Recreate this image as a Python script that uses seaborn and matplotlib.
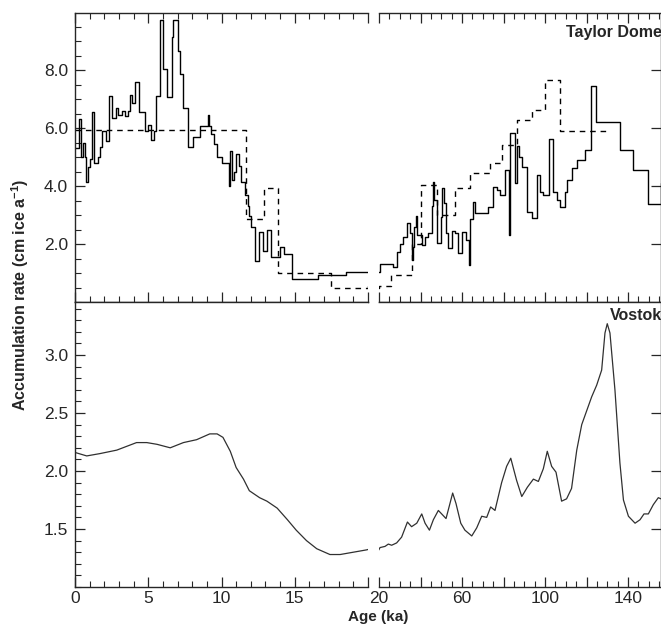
import matplotlib
matplotlib.use("Agg")
import matplotlib.pyplot as plt
import matplotlib.ticker as mticker
import pandas as pd
import seaborn as sns

# Taylor Dome accumulation, step series (age in ka where each step starts, rate in cm ice/a)
TD_AGE = [0.0, 0.3, 0.4, 0.55, 0.65, 0.75, 0.9, 1.05, 1.15, 1.3, 1.55, 1.7, 1.85, 2.1,
          2.35, 2.5, 2.8, 2.95, 3.2, 3.4, 3.65, 3.75, 3.9, 4.1, 4.35, 4.75, 5.0, 5.2,
          5.4, 5.55, 5.8, 6.03, 6.26, 6.6, 6.71, 7.05, 7.2, 7.35, 7.74, 8.03, 8.5, 9.05,
          9.15, 9.3, 9.5, 9.7, 10.0, 10.5, 10.6, 10.7, 10.85, 11.0, 11.2, 11.35, 11.6,
          11.8, 11.9, 12.0, 12.3, 12.55, 12.85, 13.1, 13.4, 14.0, 14.3, 14.8, 16.6, 18.5,
          20.3, 26.9, 28.5, 30.1, 31.7, 33.3, 35.0, 35.8, 36.3, 37.0, 38.0, 38.5, 40.6,
          42.2, 43.8, 45.4, 45.9, 46.5, 47.8, 49.7, 50.6, 51.5, 52.4, 53.4, 55.0, 56.6,
          58.2, 59.8, 62.0, 63.3, 63.9, 65.5, 66.5, 72.7, 75.0, 76.7, 78.3, 80.7, 82.6,
          83.2, 85.5, 86.3, 87.6, 88.8, 91.2, 93.6, 96.0, 97.6, 99.2, 102.0, 103.7,
          105.6, 107.2, 109.6, 110.8, 112.9, 115.3, 119.3, 122.2, 124.6, 136.1, 142.6,
          149.8, 155.9]
TD_RATE = [5.3, 6.3, 5.0, 5.5, 5.0, 4.15, 4.65, 4.95, 6.55, 4.8, 5.0, 5.35, 5.9, 5.55,
           7.1, 6.35, 6.7, 6.45, 6.6, 6.4, 6.6, 7.15, 6.85, 7.6, 6.55, 5.9, 6.1, 5.6,
           5.9, 7.1, 9.72, 8.05, 7.08, 9.15, 9.72, 8.65, 7.88, 6.7, 5.35, 5.7, 6.07, 6.45,
           6.07, 5.8, 5.45, 5.0, 4.8, 4.0, 5.2, 4.2, 4.5, 5.1, 4.7, 4.15, 3.7,
           3.3, 2.95, 2.6, 1.4, 2.4, 1.75, 2.5, 1.55, 1.9, 1.65, 0.8, 0.93, 1.02,
           1.3, 1.22, 1.74, 1.99, 2.25, 2.71, 2.37, 1.45, 1.9, 2.6, 2.95, 2.3, 1.97,
           2.25, 2.37, 3.3, 4.15, 3.52, 2.02, 2.94, 3.92, 3.4, 2.37, 1.85, 2.46, 2.37,
           1.68, 2.43, 2.14, 1.28, 2.88, 3.46, 3.07, 3.29, 3.98, 3.86, 3.69, 4.55, 2.31,
           5.84, 4.09, 5.38, 5.0, 4.67, 3.12, 2.89, 4.38, 3.8, 3.69, 5.61, 3.8,
           3.52, 3.29, 3.8, 4.21, 4.61, 4.9, 5.24, 7.45, 6.22, 5.26, 4.57,
           3.38, 4.09]
TD_END = 158.0

# Comparison (dashed) step series
DASH_AGE = [0.0, 11.65, 12.9, 13.85, 17.45, 20.0, 26.0, 35.8, 40.2, 47.8, 56.6, 63.9,
            73.5, 79.1, 86.3, 93.6, 100.0, 107.2]
DASH_RATE = [5.95, 2.85, 3.95, 1.0, 0.5, 0.55, 0.93, 2.0, 4.03, 3.0, 3.92, 4.46,
             4.78, 5.41, 6.28, 6.62, 7.66, 5.9]
DASH_END = 131.3

# Vostok accumulation (smooth curve)
VK_AGE = [0.0, 0.8, 1.7, 2.85, 4.2, 4.9, 5.6, 6.5, 7.4, 8.3, 9.2, 9.7, 10.1, 10.6, 11.0,
          11.5, 11.9, 12.6, 13.1, 13.8, 14.5, 15.1, 15.8, 16.5, 17.4, 18.1, 19.0, 19.9,
          20.5, 22.9, 24.5, 26.1, 28.5, 30.9, 33.7, 35.7, 38.2, 40.6, 42.2, 44.3, 46.2,
          48.6, 50.2, 52.3, 54.2, 55.5, 57.1, 59.4, 61.4, 64.7, 67.1, 69.5, 71.9, 73.8,
          75.9, 79.1, 81.5, 83.5, 86.3, 88.8, 91.5, 94.4, 96.8, 99.2, 101.1, 103.2,
          105.3, 108.0, 110.4, 112.8, 115.3, 117.7, 120.1, 122.5, 124.9, 127.3, 128.9,
          130.0, 131.3, 133.7, 136.1, 137.8, 140.2, 143.4, 145.8, 147.7, 149.8, 152.2,
          154.6, 155.9]
VK_RATE = [2.16, 2.13, 2.15, 2.18, 2.245, 2.245, 2.23, 2.2, 2.245, 2.27, 2.32, 2.32, 2.29,
           2.17, 2.03, 1.93, 1.83, 1.77, 1.74, 1.68, 1.58, 1.49, 1.4, 1.33, 1.28, 1.28,
           1.3, 1.32, 1.34, 1.35, 1.37, 1.36, 1.38, 1.43, 1.56, 1.52, 1.55, 1.63, 1.55,
           1.49, 1.58, 1.66, 1.63, 1.59, 1.72, 1.81, 1.72, 1.55, 1.49, 1.44, 1.51, 1.61,
           1.6, 1.69, 1.66, 1.9, 2.04, 2.11, 1.92, 1.78, 1.86, 1.93, 1.91, 2.02, 2.17,
           2.04, 1.99, 1.74, 1.76, 1.85, 2.18, 2.4, 2.52, 2.64, 2.74, 2.87, 3.19, 3.27,
           3.19, 2.7, 2.07, 1.75, 1.61, 1.55, 1.58, 1.63, 1.63, 1.71, 1.77, 1.76]


def step_frame(ages, rates, end):
    return pd.DataFrame({"age": ages + [end], "rate": rates + [rates[-1]]})


sns.set_style("ticks", {"xtick.direction": "in", "ytick.direction": "in"})
plt.rcParams["font.family"] = ["Liberation Sans", "DejaVu Sans"]
plt.rcParams["mathtext.fontset"] = "custom"
plt.rcParams["mathtext.bf"] = "Liberation Sans:bold"
plt.rcParams["mathtext.rm"] = "Liberation Sans:bold"

td = step_frame(TD_AGE, TD_RATE, TD_END)
dash = step_frame(DASH_AGE, DASH_RATE, DASH_END)
vk = pd.DataFrame({"age": VK_AGE, "rate": VK_RATE})

fig = plt.figure(figsize=(6.61, 6.24), dpi=100)
W, H = 661, 624
x_left, x_mid, x_right = 75, 379, 661
y_top, y_mid, y_bot = 13, 302, 587


def add_ax(x0, x1, y0, y1):
    return fig.add_axes([x0 / W, (H - y1) / H, (x1 - x0) / W, (y1 - y0) / H])


ax_tl = add_ax(x_left, 368, y_top, y_mid)
ax_tr = add_ax(x_mid, x_right, y_top, y_mid)
ax_bl = add_ax(x_left, 368, y_mid, y_bot)
ax_br = add_ax(x_mid, x_right, y_mid, y_bot)

for ax in (ax_tl, ax_tr):
    sns.lineplot(data=td, x="age", y="rate", drawstyle="steps-post", estimator=None,
                 sort=False, color="black", linewidth=1.0, ax=ax)
    sns.lineplot(data=dash, x="age", y="rate", drawstyle="steps-post", estimator=None,
                 sort=False, color="black", linewidth=1.0, linestyle=(0, (4, 3.5)), ax=ax)
    ax.set_ylim(0, 9.97)
for ax in (ax_bl, ax_br):
    sns.lineplot(data=vk, x="age", y="rate", estimator=None, sort=False,
                 color="#303030", linewidth=0.9, ax=ax)
    ax.set_ylim(1.0, 3.457)

for ax in (ax_tl, ax_bl):
    ax.set_xlim(0, 20)
    ax.xaxis.set_major_locator(mticker.MultipleLocator(5))
    ax.xaxis.set_minor_locator(mticker.MultipleLocator(1))
    ax.spines["right"].set_visible(False)
for ax in (ax_tr, ax_br):
    ax.set_xlim(20, 155.9)
    ax.xaxis.set_major_locator(mticker.MultipleLocator(20))
    ax.xaxis.set_minor_locator(mticker.MultipleLocator(5))
    ax.spines["left"].set_visible(False)

ax_tl.yaxis.set_major_locator(mticker.FixedLocator([2, 4, 6, 8]))
ax_tl.yaxis.set_minor_locator(mticker.MultipleLocator(0.5))
ax_tl.yaxis.set_major_formatter(mticker.FormatStrFormatter("%.1f"))
ax_tr.yaxis.set_major_locator(mticker.FixedLocator([2, 4, 6, 8]))
ax_bl.yaxis.set_major_locator(mticker.FixedLocator([1.5, 2.0, 2.5, 3.0]))
ax_bl.yaxis.set_minor_locator(mticker.MultipleLocator(0.1))
ax_bl.yaxis.set_major_formatter(mticker.FormatStrFormatter("%.1f"))
ax_br.yaxis.set_major_locator(mticker.FixedLocator([1.5, 2.0, 2.5, 3.0]))

ax_bl.xaxis.set_major_formatter(mticker.FuncFormatter(lambda v, p: "" if v >= 20 else f"{v:.0f}"))
ax_br.xaxis.set_major_formatter(
    mticker.FuncFormatter(lambda v, p: f"{v:.0f}" if int(round(v)) in (20, 60, 100, 140) else ""))

for ax in (ax_tl, ax_tr, ax_bl, ax_br):
    ax.set_xlabel("")
    ax.set_ylabel("")
    for sp in ax.spines.values():
        sp.set_linewidth(1.0)
    ax.tick_params(which="major", length=7, width=0.9, labelsize=12.5, pad=5)
    ax.tick_params(which="minor", length=4, width=0.8)

for ax in (ax_tl, ax_tr):
    ax.tick_params(axis="x", which="both", top=True, bottom=True, labelbottom=False)
for ax in (ax_bl, ax_br):
    ax.tick_params(axis="x", which="both", top=False, bottom=True)
    ax.tick_params(axis="x", which="major", pad=3)
for ax in (ax_tl, ax_bl):
    ax.tick_params(axis="y", which="both", left=True, right=False)
for ax in (ax_tr, ax_br):
    ax.tick_params(axis="y", which="both", left=False, right=True, labelleft=False)
    ax.tick_params(axis="y", which="minor", right=False)

ax_tr.text(1.004, 0.934, "Taylor Dome", transform=ax_tr.transAxes, ha="right",
           va="center", fontsize=11.5, fontweight="bold", clip_on=False)
ax_br.text(1.004, 0.951, "Vostok", transform=ax_br.transAxes, ha="right",
           va="center", fontsize=11.5, fontweight="bold", clip_on=False)

fig.text(20 / W, (H - 295) / H, r"Accumulation rate (cm ice a$^{\mathbf{-1}}$)",
         rotation=90, ha="center", va="center", fontsize=11.5, fontweight="bold")
fig.text(378 / W, (H - 617) / H, "Age (ka)", ha="center", va="center",
         fontsize=11, fontweight="bold")

fig.savefig("out.png", dpi=100)
